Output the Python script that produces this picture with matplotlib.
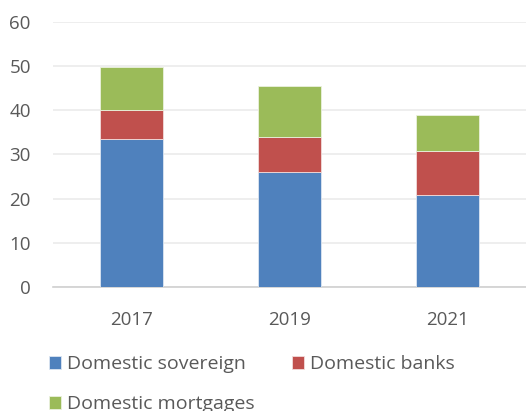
import matplotlib.pyplot as plt
import numpy as np

plt.rcParams['font.family'] = ['Open Sans', 'DejaVu Sans']

years = ["2017", "2019", "2021"]
sovereign = [33.4, 26.0, 20.8]
banks = [6.6, 8.0, 10.1]
mortgages = [9.7, 11.6, 8.1]

blue = "#4f81bd"
red = "#c0504d"
green = "#9bbb59"
txt = "#595959"

fig = plt.figure(figsize=(5.26, 4.11), dpi=100)
ax = fig.add_axes([0.1008, 0.3017, 0.8992, 0.6448])

x = np.arange(len(years))
w = 0.4
b1 = np.array(sovereign)
b2 = b1 + np.array(banks)
h1 = ax.bar(x, sovereign, w, color=blue, edgecolor="#dce6f2", linewidth=0.6, label="Domestic sovereign", zorder=3)
h2 = ax.bar(x, banks, w, bottom=b1, color=red, edgecolor="#f2dcdb", linewidth=0.6, label="Domestic banks", zorder=3)
h3 = ax.bar(x, mortgages, w, bottom=b2, color=green, edgecolor="#ebf1de", linewidth=0.6, label="Domestic mortgages", zorder=3)

ax.set_xlim(-0.5, 2.5)
ax.set_ylim(0, 60)
ax.set_yticks(range(0, 61, 10))
ax.set_xticks(x)
ax.set_xticklabels(years)
ax.yaxis.grid(True, color="#ebebeb", linewidth=1.2, zorder=0)
for s in ["top", "right", "left"]:
    ax.spines[s].set_visible(False)
ax.spines["bottom"].set_color("#d0d0d0")
ax.spines["bottom"].set_linewidth(1.2)
ax.tick_params(axis="both", length=0, labelsize=13.5, colors=txt)
ax.tick_params(axis="x", pad=17)
ax.tick_params(axis="y", pad=16)

# row-major order like the original legend
fig.legend([h1, h3, h2], ["Domestic sovereign", "Domestic mortgages", "Domestic banks"],
           loc="upper left", bbox_to_anchor=(0.078, 0.155), ncol=2, frameon=False,
           fontsize=14, labelcolor=txt, handlelength=0.65, handleheight=0.65,
           handletextpad=0.3, columnspacing=1.9, labelspacing=1.15, borderaxespad=0)

fig.savefig("out.png", dpi=100)
